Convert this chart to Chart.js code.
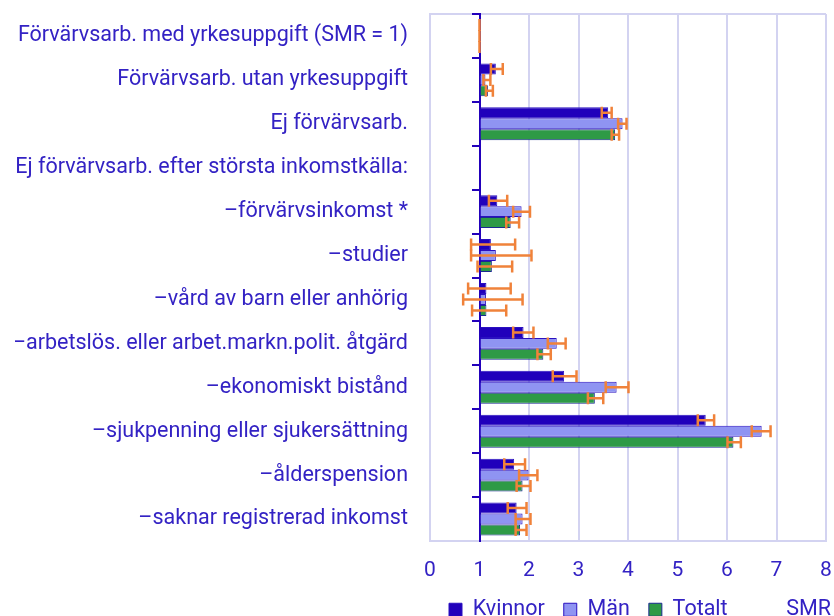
<!DOCTYPE html>
<html>
<head>
<meta charset="utf-8">
<script src="https://cdn.jsdelivr.net/npm/chart.js@4/dist/chart.umd.min.js"></script>
<style>
    html, body { margin: 0; padding: 0; background: #ffffff; }
    #wrap { width: 834px; height: 616px; }
</style>
</head>
<body>
<div id="wrap"><canvas id="smrChart" width="834" height="616"></canvas></div>
<script>
    var categories = [
        'Förvärvsarb. med yrkesuppgift (SMR = 1)',
        'Förvärvsarb. utan yrkesuppgift',
        'Ej förvärvsarb.',
        'Ej förvärvsarb. efter största inkomstkälla:',
        '–förvärvsinkomst *',
        '–studier',
        '–vård av barn eller anhörig',
        '–arbetslös. eller arbet.markn.polit. åtgärd',
        '–ekonomiskt bistånd',
        '–sjukpenning eller sjukersättning',
        '–ålderspension',
        '–saknar registrerad inkomst'
    ];

    var kvinnor = [1, 1.33, 3.60, null, 1.36, 1.23, 1.14, 1.89, 2.71, 5.57, 1.70, 1.75];
    var kvinnorLow = [1, 1.23, 3.47, null, 1.19, 0.83, 0.77, 1.68, 2.48, 5.41, 1.50, 1.57];
    var kvinnorHigh = [1, 1.47, 3.67, null, 1.56, 1.72, 1.63, 2.09, 2.96, 5.74, 1.92, 1.95];

    var man = [1, 1.12, 3.89, null, 1.85, 1.33, 1.13, 2.56, 3.77, 6.70, 1.99, 1.87];
    var manLow = [1, 1.08, 3.80, null, 1.68, 0.83, 0.67, 2.38, 3.55, 6.50, 1.80, 1.73];
    var manHigh = [1, 1.22, 3.97, null, 2.02, 2.05, 1.87, 2.74, 4.01, 6.88, 2.17, 2.03];

    var totalt = [1, 1.17, 3.74, null, 1.63, 1.25, 1.14, 2.29, 3.33, 6.13, 1.87, 1.82];
    var totaltLow = [1, 1.13, 3.67, null, 1.54, 0.96, 0.85, 2.17, 3.19, 6.01, 1.75, 1.73];
    var totaltHigh = [1, 1.27, 3.82, null, 1.80, 1.66, 1.54, 2.44, 3.50, 6.28, 2.03, 1.95];

    var xTicks = [0, 1, 2, 3, 4, 5, 6, 7, 8];

    var textColor = '#3322c4';
    var gridColor = '#d3d3f1';
    var axisColor = '#2200bb';
    var errColor = '#f0823a';

    // orange confidence intervals, drawn on top of the bars
    var errorBars = {
        id: 'errorBars',
        afterDatasetsDraw: function(chart) {
            var ctx = chart.ctx;
            var xScale = chart.scales.x;
            ctx.save();
            ctx.strokeStyle = errColor;
            ctx.lineWidth = 2.5;
            chart.data.datasets.forEach(function(ds, i) {
                var meta = chart.getDatasetMeta(i);
                meta.data.forEach(function(bar, j) {
                    if (ds.low[j] == null) {
                        return;
                    }
                    var x1 = xScale.getPixelForValue(ds.low[j]);
                    var x2 = xScale.getPixelForValue(ds.high[j]);
                    var y = bar.y;
                    var h = 6;
                    ctx.beginPath();
                    ctx.moveTo(x1, y);
                    ctx.lineTo(x2, y);
                    ctx.moveTo(x1, y - h);
                    ctx.lineTo(x1, y + h);
                    ctx.moveTo(x2, y - h);
                    ctx.lineTo(x2, y + h);
                    ctx.stroke();
                });
            });
            ctx.restore();
        }
    };

    // axis title sits on the legend row
    var smrTitle = {
        id: 'smrTitle',
        afterDraw: function(chart) {
            var ctx = chart.ctx;
            var box = chart.legend.legendHitBoxes[0];
            ctx.save();
            ctx.font = '21.5px Roboto';
            ctx.fillStyle = textColor;
            ctx.textAlign = 'right';
            ctx.textBaseline = 'middle';
            ctx.fillText('SMR', 831, box.top + box.height / 2);
            ctx.restore();
        }
    };

    Chart.defaults.font.family = 'Roboto';
    Chart.defaults.color = textColor;

    new Chart(document.getElementById('smrChart').getContext('2d'), {
        type: 'bar',
        data: {
            labels: categories,
            datasets: [{
                label: 'Kvinnor',
                data: kvinnor,
                low: kvinnorLow,
                high: kvinnorHigh,
                base: 1,
                backgroundColor: '#2000bb',
                borderColor: '#2a10c0',
                borderWidth: 1
            }, {
                label: 'Män',
                data: man,
                low: manLow,
                high: manHigh,
                base: 1,
                backgroundColor: '#8f94f2',
                borderColor: '#2a10c0',
                borderWidth: 1
            }, {
                label: 'Totalt',
                data: totalt,
                low: totaltLow,
                high: totaltHigh,
                base: 1,
                backgroundColor: '#2e9a46',
                borderColor: '#1a2a90',
                borderWidth: 1
            }]
        },
        options: {
            indexAxis: 'y',
            responsive: false,
            animation: false,
            layout: {
                padding: { left: 15, right: 8, top: 14, bottom: -14.5 }
            },
            datasets: {
                bar: {
                    categoryPercentage: 0.75,
                    barPercentage: 1.0
                }
            },
            scales: {
                x: {
                    min: 0,
                    max: 8,
                    ticks: {
                        stepSize: 1,
                        padding: 21,
                        font: { size: 21, lineHeight: 0.86 },
                        callback: function(v) { return xTicks.indexOf(v) >= 0 ? String(v) : ''; }
                    },
                    grid: {
                        color: gridColor,
                        lineWidth: 2,
                        drawTicks: false
                    },
                    border: { color: gridColor, width: 2 },
                    afterFit: function(scale) {
                        scale.height = 39;
                        scale.paddingLeft = 0;
                        scale.paddingRight = 0;
                    }
                },
                y: {
                    ticks: {
                        padding: 22,
                        font: { size: 21.5 }
                    },
                    grid: {
                        offset: true,
                        drawTicks: false,
                        lineWidth: 2,
                        color: function(c) { return c.index === 0 ? gridColor : 'rgba(0,0,0,0)'; }
                    },
                    border: { color: gridColor, width: 2 },
                    afterFit: function(scale) {
                        scale.width = 415;
                        scale.paddingTop = 0;
                        scale.paddingBottom = 0;
                    }
                },
                // dark axis line with ticks at SMR = 1
                yBase: {
                    type: 'category',
                    axis: 'y',
                    labels: categories,
                    position: { x: 1 },
                    offset: true,
                    ticks: { display: false },
                    grid: {
                        offset: true,
                        drawOnChartArea: false,
                        tickLength: 7,
                        lineWidth: 2,
                        color: axisColor
                    },
                    border: { color: axisColor, width: 2 }
                }
            },
            plugins: {
                legend: {
                    position: 'bottom',
                    fullSize: false,
                    align: 'start',
                    labels: {
                        boxWidth: 13,
                        boxHeight: 13,
                        padding: 19,
                        font: { size: 21.5 },
                        color: textColor
                    }
                },
                tooltip: { enabled: false }
            }
        },
        plugins: [errorBars, smrTitle]
    });
</script>
</body>
</html>
